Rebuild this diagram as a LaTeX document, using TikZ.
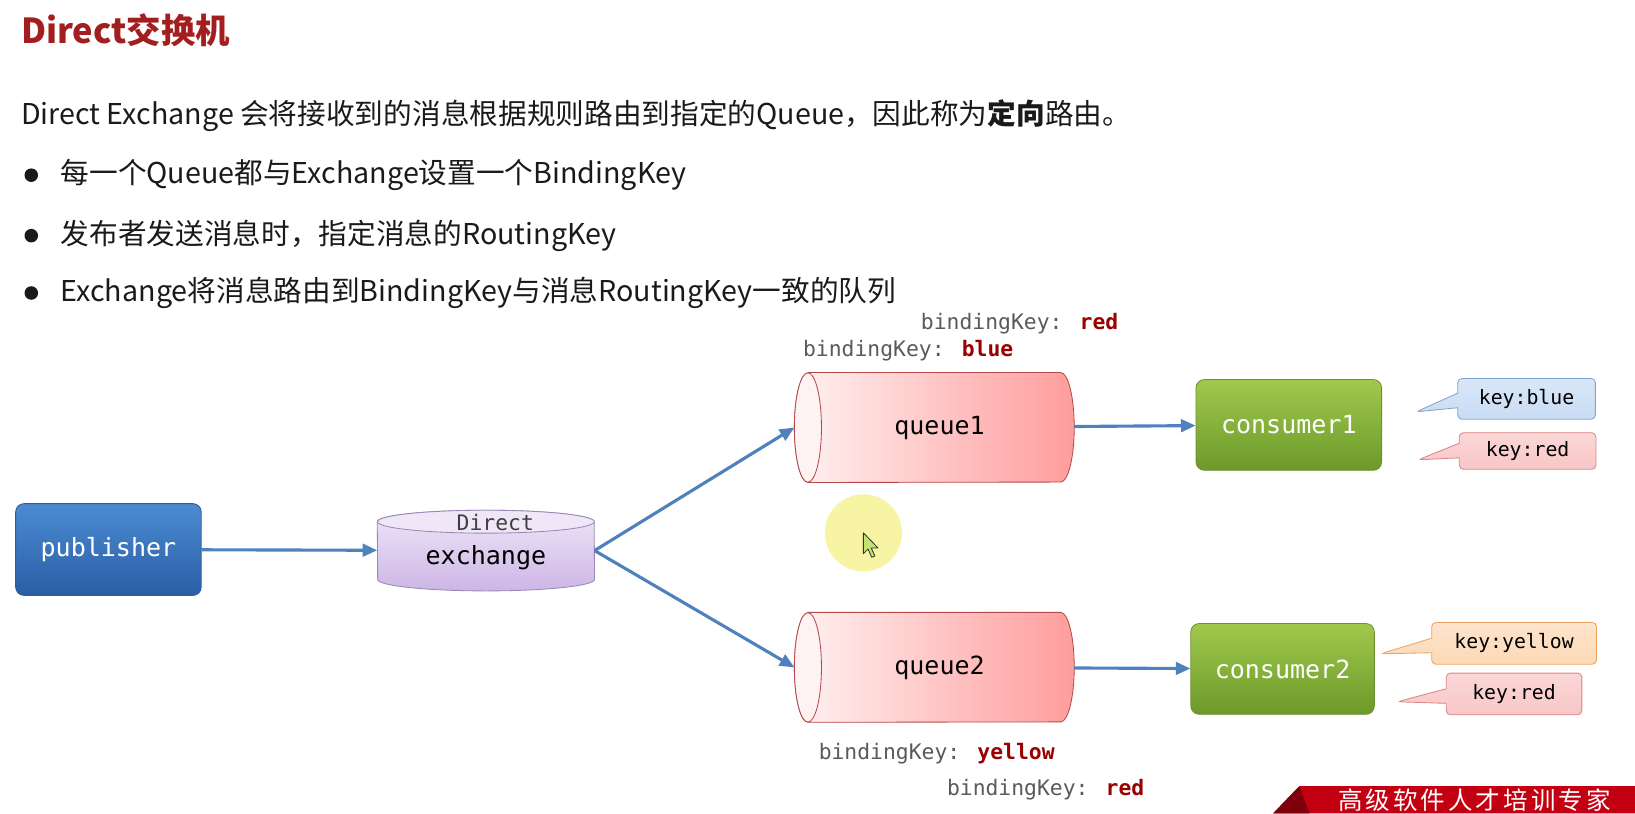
\documentclass[tikz,border=0pt]{standalone}
\usepackage{fontspec}
\setmainfont{Noto Sans CJK SC}
\newfontfamily\codefont{DejaVu Sans Mono}
\usetikzlibrary{arrows.meta,shapes.callouts,positioning,calc,backgrounds}

\definecolor{titlered}{HTML}{A31F1F}
\definecolor{bodyblack}{HTML}{1A1A1A}
\definecolor{linkblue}{HTML}{4F81BD}
\definecolor{keygray}{HTML}{5A5A5A}
\definecolor{keyred}{HTML}{990000}
\definecolor{pubtop}{HTML}{4B8BD2}
\definecolor{pubbot}{HTML}{2A5EA4}
\definecolor{publine}{HTML}{2C5C96}
\definecolor{contop}{HTML}{A0C94C}
\definecolor{conbot}{HTML}{6C992A}
\definecolor{conline}{HTML}{6E8F35}
\definecolor{qlight}{HTML}{FFF2F2}
\definecolor{qdark}{HTML}{FF9C9C}
\definecolor{qline}{HTML}{B5484A}
\definecolor{extop}{HTML}{EFE6F8}
\definecolor{exbot}{HTML}{CDB6E6}
\definecolor{exline}{HTML}{9A88B2}
\definecolor{cbfill}{HTML}{C9DCF4}
\definecolor{cbline}{HTML}{7FA3D2}
\definecolor{crfill}{HTML}{F9C6C6}
\definecolor{crline}{HTML}{D98585}
\definecolor{cyfill}{HTML}{FCD9B6}
\definecolor{cyline}{HTML}{EFA25C}
\definecolor{hlyellow}{HTML}{F7F4A4}
\definecolor{bannerred}{HTML}{C30012}
\definecolor{bannerdark}{HTML}{7E000B}

\tikzset{
  flow/.style={draw=linkblue, line width=3pt, -{Triangle[length=14pt,width=12pt]}},
  actor/.style={rectangle, rounded corners=8pt, draw, line width=0.8pt, text=white,
    font=\codefont\fontsize{24}{28}\selectfont},
  queuenode/.style={rectangle, minimum width=268pt, minimum height=105pt, inner sep=0pt,
    font=\codefont\fontsize{24}{28}\selectfont},
  queuebody/.style={draw=qline, line width=0.8pt, left color=qlight, right color=qdark},
  keybox/.style={rectangle callout, rounded corners=4pt, line width=0.8pt, inner sep=0pt,
    callout pointer width=14pt, font=\codefont\fontsize{19}{22}\selectfont},
  bindtext/.style={anchor=west, inner sep=0pt, text=keygray, font=\codefont\fontsize{20.5}{24}\selectfont},
  bullettext/.style={anchor=west, inner sep=0pt, text=bodyblack, font=\fontsize{27.5}{32}\selectfont}
}

\begin{document}
\begin{tikzpicture}[x=1pt, y=-1pt]
    \useasboundingbox (0,0) rectangle (1568,780);

    % Heading and text
    \node[anchor=west, inner sep=0pt, text=titlered, font=\bfseries\fontsize{33}{38}\selectfont] (title) at (20,29) {Direct交换机};
    \node[bullettext] (intro) at (20,111) {Direct Exchange 会将接收到的消息根据规则路由到指定的Queue，因此称为{\bfseries 定向}路由。};
    \foreach \y/\txt [count=\i] in {168/每一个Queue都与Exchange设置一个BindingKey,
                                    226/{发布者发送消息时，指定消息的RoutingKey},
                                    281/Exchange将消息路由到BindingKey与消息RoutingKey一致的队列} {
        \fill[bodyblack] (30,\y) circle (6.5);
        \node[bullettext] (item\i) at (58,\y) {\txt};
    }

    % Nodes
    \node[actor, draw=publine, top color=pubtop, bottom color=pubbot, minimum width=178pt, minimum height=88pt] (pub) at (104,527) {publisher};
    \node[rectangle, minimum width=208pt, minimum height=77pt, inner sep=0pt] (exch) at (466,528) {};
    \node[text=black!75, font=\codefont\fontsize{20.5}{24}\selectfont] (exchtype) at (475,501) {Direct};
    \node[font=\codefont\fontsize{24}{28}\selectfont] (exchname) at (466,535) {exchange};
    \node[queuenode] (q1) at (896,410) {\hspace*{10pt}queue1};
    \node[queuenode] (q2) at (896,640) {\hspace*{10pt}queue2};
    \node[actor, draw=conline, top color=contop, bottom color=conbot, minimum width=178pt, minimum height=87pt] (c1) at (1236,407.5) {consumer1};
    \node[actor, draw=conline, top color=contop, bottom color=conbot, minimum width=176pt, minimum height=87pt] (c2) at (1230,641.5) {consumer2};

    % Cylinders behind the texts
    \begin{scope}[on background layer]
        \draw[draw=exline, line width=0.8pt, top color=extop, bottom color=exbot]
            ([yshift=-11pt]exch.north west) arc[x radius=104pt, y radius=11pt, start angle=180, end angle=0]
            -- ([yshift=11pt]exch.south east) arc[x radius=104pt, y radius=11pt, start angle=0, end angle=-180] -- cycle;
        \draw[draw=exline, line width=0.8pt, fill=extop]
            ($(exch.north)+(0,11)$) ellipse[x radius=104pt, y radius=11pt];
        \foreach \q in {q1,q2} {
            \draw[queuebody]
                ([xshift=13pt]\q.north west) -- ([xshift=-13pt]\q.north east)
                arc[x radius=13pt, y radius=52.5pt, start angle=90, end angle=-90]
                -- ([xshift=13pt]\q.south west)
                arc[x radius=13pt, y radius=52.5pt, start angle=270, end angle=90] -- cycle;
            \draw[draw=qline, line width=0.8pt, fill=qlight]
                ([xshift=13pt]\q.west) ellipse[x radius=13pt, y radius=52.5pt];
        }
    \end{scope}

    % Links
    \draw[flow] (pub) -- (exch);
    \draw[flow] (exch.east) -- (q1.west);
    \draw[flow] (exch.east) -- (q2.west);
    \draw[flow] (q1) -- (c1);
    \draw[flow] (q2) -- (c2);

    % Binding keys
    \node[bindtext] (bk1) at (883,310) {bindingKey: \textbf{\color{keyred}red}};
    \node[bindtext] (bk2) at (770,336) {bindingKey: \textbf{\color{keyred}blue}};
    \node[bindtext] (bk3) at (785,723) {bindingKey: \textbf{\color{keyred}yellow}};
    \node[bindtext] (bk4) at (908,757) {bindingKey: \textbf{\color{keyred}red}};

    % Consumer keys
    \node[keybox, draw=cbline, top color=cbfill!70!white, bottom color=cbfill, minimum width=132pt, minimum height=39pt,
          callout absolute pointer={(1358,395)}] (kb1) at (1464,382.5) {key:blue};
    \node[keybox, draw=crline, top color=crfill!70!white, bottom color=crfill, minimum width=131pt, minimum height=35pt,
          callout absolute pointer={(1360,441)}] (kr1) at (1465,432.5) {key:red};
    \node[keybox, draw=cyline, top color=cyfill!70!white, bottom color=cyfill, minimum width=158pt, minimum height=40pt,
          callout absolute pointer={(1324,627)}] (ky2) at (1452,617) {key:yellow};
    \node[keybox, draw=crline, top color=crfill!70!white, bottom color=crfill, minimum width=130pt, minimum height=40pt,
          callout absolute pointer={(1340,673)}] (kr2) at (1452,665.5) {key:red};

    % Cursor highlight
    \fill[hlyellow] (828,511) circle (37);
    \draw[fill=yellow!60!green!60, draw=black!80, line width=0.8pt, line join=round]
        (828,511) -- ++(0,20) -- ++(4.5,-4.5) -- ++(3.5,8) -- ++(3,-1.3) -- ++(-3.5,-7.7) -- ++(6.5,0) -- cycle;

    % Banner
    \fill[bannerred] (1246,754) -- (1568,754) -- (1568,780) -- (1221,780) -- cycle;
    \fill[bannerdark] (1246,754) -- (1256,780) -- (1221,780) -- cycle;
    \node[anchor=north west, inner sep=0pt, text=white, font=\fontsize{23.5}{26}\selectfont\addfontfeature{LetterSpace=12.5}] (slogan) at (1283,756.5) {高级软件人才培训专家};
\end{tikzpicture}
\end{document}
